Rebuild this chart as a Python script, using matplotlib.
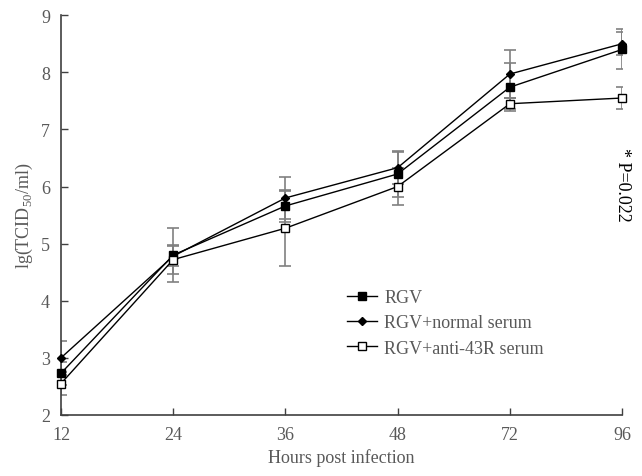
import matplotlib
matplotlib.use("Agg")
import matplotlib.pyplot as plt
from matplotlib.lines import Line2D

# =========================
# Dados
# =========================
horas = ["12", "24", "36", "48", "72", "96"]

rgv = [2.73, 4.80, 5.66, 6.22, 7.74, 8.40]
rgv_err = [0.20, 0.47, 0.28, 0.40, 0.42, 0.35]

normal = [3.00, 4.78, 5.80, 6.33, 7.97, 8.50]
normal_err = [0.30, 0.18, 0.37, 0.28, 0.42, 0.20]

anti = [2.55, 4.72, 5.27, 6.00, 7.45, 7.55]
anti_err = [0.20, 0.25, 0.66, 0.33, 0.10, 0.20]

legendas = ["RGV", "RGV+normal serum", "RGV+anti-43R serum"]

# =========================
# Estilo
# =========================
plt.rcParams["font.family"] = ["Liberation Serif", "DejaVu Serif"]
plt.rcParams["mathtext.fontset"] = "custom"
plt.rcParams["mathtext.rm"] = "Liberation Serif"
cinza_texto = "#595959"
cinza_erro = "#808080"

fig = plt.figure(figsize=(6.42, 4.77), dpi=100)
ax = fig.add_axes([0.095, 0.128, 0.874, 0.838])

x = list(range(len(horas)))

estilos = [
    dict(marker="s", markersize=5.5, markerfacecolor="black"),
    dict(marker="D", markersize=4.0, markerfacecolor="black"),
    dict(marker="s", markersize=5.5, markerfacecolor="white"),
]
dados = [(rgv, rgv_err), (normal, normal_err), (anti, anti_err)]

# barras de erro primeiro (ficam por baixo)
for y, e in dados:
    ax.errorbar(x, y, yerr=e, fmt="none", ecolor=cinza_erro,
                elinewidth=1.2, capsize=4, capthick=1.2, zorder=2)

handles = []
for (y, e), estilo, nome in zip(dados, estilos, legendas):
    linha, = ax.plot(x, y, color="black", linewidth=1.0,
                     markeredgecolor="black", markeredgewidth=1.0,
                     label=nome, zorder=3, clip_on=False, **estilo)
    handles.append(linha)

ax.set_xlim(0, 5)
ax.set_ylim(2, 9)
ax.set_xticks(x)
ax.set_xticklabels(horas)
ax.set_yticks(range(2, 10))

for lado in ["top", "right"]:
    ax.spines[lado].set_visible(False)
for lado in ["left", "bottom"]:
    ax.spines[lado].set_color("#404040")
    ax.spines[lado].set_linewidth(1.2)

ax.tick_params(direction="in", length=5, width=1.0, colors="#404040",
               labelcolor=cinza_texto, labelsize=13, pad=8)

ax.set_xlabel("Hours post infection", fontsize=13, color=cinza_texto)
ax.set_ylabel(r"lg(TCID$_{\mathrm{50}}$/ml)", fontsize=13, color=cinza_texto)

ax.text(5, 6.7, "* P=0.022", rotation=270, ha="center", va="top",
        fontsize=13, color="black")

leg = ax.legend(handles=handles, loc="upper left", bbox_to_anchor=(0.48, 0.355),
                frameon=False, fontsize=13, handlelength=1.7, labelspacing=0.45,
                handletextpad=0.4)
for t in leg.get_texts():
    t.set_color(cinza_texto)

plt.savefig("out.png", dpi=100)
